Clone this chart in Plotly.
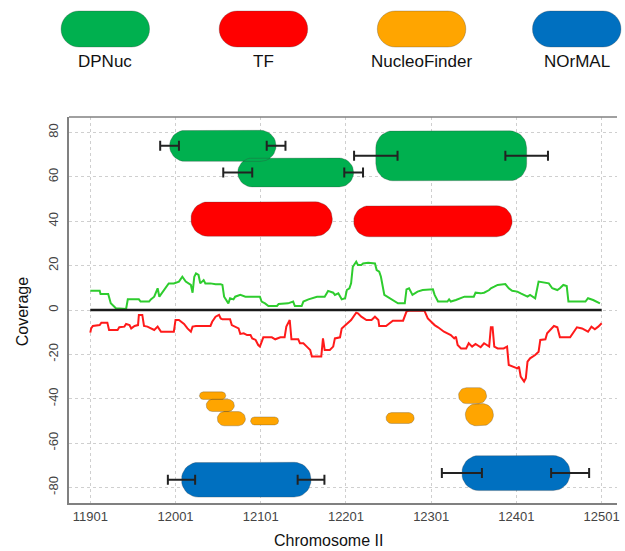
import plotly.graph_objects as go
import numpy as np

# ---------------- data ----------------
x_ticks = [11901, 12001, 12101, 12201, 12301, 12401, 12501]
y_ticks = [-80, -60, -40, -20, 0, 20, 40, 60, 80]

# DPNuc (green)
dp_start = [11994, 12074, 12236]
dp_end = [12119, 12210, 12413]
dp_y = [74, 62, 69.5]
dp_h = [14, 13, 22.5]
dp_start_err = [11, 17, 25.5]
dp_end_err = [11, 11, 25]

# TF (red)
tf_start = [12019, 12210]
tf_end = [12185, 12396]
tf_y = [41, 40]
tf_h = [15.5, 14]

# NucleoFinder (orange)
nf_start = [12029, 12037, 12050, 12089, 12248, 12333, 12341]
nf_end = [12060, 12070, 12083, 12122, 12281, 12366, 12374]
nf_y = [-38.6, -43, -49, -50, -48.7, -38.6, -47.2]
nf_h = [3.4, 5.5, 6.4, 3.6, 4.9, 7.2, 10]

# NOrMAL (blue)
nm_start = [12008, 12337]
nm_end = [12160, 12464]
nm_y = [-76.5, -73.5]
nm_h = [15.7, 15.8]
nm_start_err = [16, 23.5]
nm_end_err = [15.7, 22.3]

# coverage, positive strand (green)
cov_pos_x = [11901, 11912, 11913, 11922, 11925, 11931, 11943, 11945, 11958, 11960, 11970, 11972,
             11976, 11980, 11982, 11986, 11993, 11999, 12005, 12009, 12013, 12019, 12021, 12023,
             12025, 12028, 12030, 12034, 12036, 12042, 12048, 12054, 12056, 12058, 12063, 12065,
             12069, 12071, 12077, 12083, 12100, 12102, 12106, 12110, 12120, 12122, 12133, 12139,
             12141, 12149, 12151, 12157, 12167, 12176, 12180, 12186, 12188, 12192, 12196, 12200,
             12202, 12205, 12207, 12209, 12213, 12215, 12219, 12221, 12227, 12235, 12237, 12240,
             12242, 12246, 12252, 12258, 12262, 12270, 12272, 12275, 12279, 12285, 12291, 12303,
             12305, 12309, 12320, 12322, 12324, 12330, 12336, 12340, 12351, 12353, 12359, 12363,
             12369, 12371, 12375, 12379, 12388, 12392, 12396, 12402, 12406, 12410, 12414, 12417,
             12423, 12427, 12433, 12439, 12443, 12449, 12452, 12456, 12460, 12462, 12482, 12485,
             12491, 12495, 12499]
cov_pos_y = [8.7, 8.7, 7.2, 7.2, 3.0, 0.8, 0.45, 4.8, 4.8, 3.8, 3.8, 4.8,
             6.0, 9.8, 6.0, 8.3, 12.0, 12.0, 12.8, 15.0, 12.8, 11.3, 7.8, 15.0,
             16.5, 15.8, 12.0, 13.5, 12.0, 12.0, 11.6, 11.6, 11.3, 6.0, 3.0, 5.3,
             4.8, 6.0, 6.8, 6.0, 6.0, 3.8, 3.0, 1.8, 1.8, 2.7, 3.0, 3.8,
             1.8, 1.8, 3.8, 4.8, 6.0, 6.0, 8.6, 7.8, 6.8, 7.5, 4.8, 5.3,
             9.0, 9.8, 12.0, 19.5, 21.8, 20.3, 20.3, 21.0, 21.3, 21.0, 18.0, 17.3,
             15.0, 6.8, 5.3, 3.8, 3.0, 3.0, 9.3, 9.8, 6.8, 8.3, 9.0, 9.3,
             6.8, 3.8, 3.8, 4.8, 3.8, 4.5, 5.3, 6.0, 6.0, 7.8, 7.5, 7.8,
             9.0, 9.8, 10.5, 11.3, 11.7, 9.8, 8.7, 8.3, 7.5, 6.8, 6.0, 6.8,
             5.3, 12.8, 12.3, 12.0, 9.8, 9.0, 9.8, 11.3, 10.8, 3.8, 3.8, 5.3,
             4.5, 3.8, 3.0]

# coverage, negative strand (red)
cov_neg_x = [11901, 11902, 11904, 11912, 11914, 11921, 11923, 11933, 11935, 11941, 11943, 11947,
             11949, 11953, 11957, 11958, 11962, 11964, 11968, 11972, 11976, 11980, 11982, 11984,
             11999, 12001, 12005, 12011, 12015, 12019, 12021, 12025, 12042, 12044, 12048, 12052,
             12054, 12056, 12065, 12067, 12075, 12077, 12081, 12085, 12089, 12091, 12095, 12098,
             12100, 12104, 12114, 12118, 12124, 12129, 12131, 12135, 12137, 12145, 12147, 12151,
             12155, 12159, 12161, 12172, 12174, 12176, 12182, 12186, 12188, 12194, 12196, 12200,
             12207, 12213, 12215, 12219, 12225, 12231, 12235, 12239, 12240, 12248, 12252, 12256,
             12268, 12270, 12272, 12275, 12293, 12297, 12301, 12305, 12309, 12316, 12324, 12328,
             12330, 12332, 12336, 12342, 12345, 12349, 12353, 12359, 12363, 12369, 12371, 12373,
             12375, 12379, 12386, 12390, 12392, 12398, 12402, 12404, 12406, 12410, 12412, 12414,
             12417, 12423, 12427, 12429, 12435, 12437, 12441, 12445, 12449, 12452, 12464, 12468,
             12472, 12478, 12482, 12485, 12489, 12493, 12497, 12501]
cov_neg_y = [-10.2, -8.3, -7.2, -6.8, -5.7, -5.7, -9.0, -9.0, -7.8, -7.5, -6.3, -6.8,
             -8.3, -7.2, -6.8, -2.2, -2.2, -7.2, -7.5, -8.3, -9.0, -7.5, -8.7, -9.8,
             -9.8, -4.5, -4.5, -6.3, -8.3, -9.8, -7.5, -7.2, -7.2, -5.3, -3.0, -2.2,
             -3.8, -4.2, -4.2, -6.8, -8.3, -10.8, -10.5, -11.3, -11.3, -12.8, -13.5, -15.8,
             -16.5, -12.3, -12.3, -13.2, -12.3, -12.3, -7.5, -4.5, -13.2, -13.2, -15.0, -15.0,
             -16.5, -18.0, -21.0, -21.0, -12.8, -18.0, -18.0, -16.5, -12.8, -12.3, -8.3, -6.8,
             -4.5, -1.2, -1.5, -3.0, -4.5, -4.5, -3.0, -4.5, -7.2, -7.2, -6.0, -4.8,
             -4.8, -3.0, -0.7, -0.3, -0.3, -3.8, -5.3, -6.8, -7.8, -9.8, -11.3, -12.8,
             -12.0, -15.8, -17.3, -17.3, -15.0, -16.5, -15.3, -16.8, -15.0, -16.5, -7.8, -7.8,
             -16.5, -17.3, -17.3, -16.5, -24.8, -25.5, -26.3, -25.5, -30.0, -32.3, -30.8, -23.3,
             -21.8, -20.3, -18.8, -13.5, -13.2, -10.5, -9.0, -7.2, -7.8, -12.3, -12.3, -9.8,
             -7.8, -8.3, -9.0, -9.8, -7.5, -8.7, -7.5, -6.0]

zero_x = [11901, 12501]
zero_y = [0, 0]

legend_names = ["DPNuc", "TF", "NucleoFinder", "NOrMAL"]
colors = {"DPNuc": "#00B04F", "TF": "#FF0000", "NucleoFinder": "#FFA500", "NOrMAL": "#0070C0"}

# ---------------- layout geometry ----------------
W, H = 625, 551
ML, MR, MT, MB = 69, 5, 117, 48
XR = [11876, 12519]
YR = [-87, 87]
PW = W - ML - MR
PH = H - MT - MB
KX = PW / (XR[1] - XR[0])   # px per data unit (x)
KY = PH / (YR[1] - YR[0])   # px per data unit (y)
RCAP = 17  # max corner radius in px
FONT = "Liberation Sans, Arial, sans-serif"


def rounded_poly(x0, x1, yc, h, kx=KX, ky=KY, rcap=RCAP, n=10):
    r = min(h * ky / 2.0, rcap, (x1 - x0) * kx / 2.0)
    rx, ry = r / kx, r / ky
    y0, y1 = yc - h / 2.0, yc + h / 2.0
    xs, ys = [], []
    for cx, cy, a0 in [(x1 - rx, y1 - ry, 0), (x0 + rx, y1 - ry, 90),
                       (x0 + rx, y0 + ry, 180), (x1 - rx, y0 + ry, 270)]:
        for t in np.linspace(a0, a0 + 90, n):
            xs.append(cx + rx * np.cos(np.radians(t)))
            ys.append(cy + ry * np.sin(np.radians(t)))
    xs.append(xs[0]); ys.append(ys[0])
    return xs, ys


def pill_trace(starts, ends, ys_, hs, color):
    X, Y = [], []
    for s, e, yc, h in zip(starts, ends, ys_, hs):
        px, py = rounded_poly(s, e, yc, h)
        X += px + [None]
        Y += py + [None]
    return go.Scatter(x=X, y=Y, mode="lines", fill="toself", fillcolor=color,
                      line=dict(color="rgba(60,60,60,0.35)", width=0.8),
                      hoverinfo="skip", showlegend=False)


def err_trace(starts, ends, ys_, serr, eerr):
    return go.Scatter(x=list(starts) + list(ends), y=list(ys_) + list(ys_), mode="markers",
                      marker=dict(size=1, color="rgba(0,0,0,0)"),
                      error_x=dict(type="data", array=list(serr) + list(eerr), symmetric=True,
                                   color="#222222", thickness=2, width=5),
                      hoverinfo="skip", showlegend=False)


fig = go.Figure()

fig.add_trace(pill_trace(dp_start, dp_end, dp_y, dp_h, colors["DPNuc"]))
fig.add_trace(pill_trace(tf_start, tf_end, tf_y, tf_h, colors["TF"]))
fig.add_trace(pill_trace(nf_start, nf_end, nf_y, nf_h, colors["NucleoFinder"]))
fig.add_trace(pill_trace(nm_start, nm_end, nm_y, nm_h, colors["NOrMAL"]))

fig.add_trace(go.Scatter(x=cov_pos_x, y=cov_pos_y, mode="lines",
                         line=dict(color="#2ECC2E", width=2), showlegend=False))
fig.add_trace(go.Scatter(x=cov_neg_x, y=cov_neg_y, mode="lines",
                         line=dict(color="#FF1A1A", width=2), showlegend=False))
fig.add_trace(go.Scatter(x=zero_x, y=zero_y, mode="lines",
                         line=dict(color="#1a1a1a", width=2.5), showlegend=False))

fig.add_trace(err_trace(dp_start, dp_end, dp_y, dp_start_err, dp_end_err))
fig.add_trace(err_trace(nm_start, nm_end, nm_y, nm_start_err, nm_end_err))

# ---------------- custom legend (pills above the plot) ----------------
def px2paper_x(px):
    return (px - ML) / PW


def px2paper_y(py):
    return (H - MB - py) / PH


legend_left_px = [61, 220, 379, 535]
legend_w_px, legend_top_px, legend_h_px = 89, 11, 36
shapes = []
annotations = []
for name, lx in zip(legend_names, legend_left_px):
    px, py = rounded_poly(lx, lx + legend_w_px, legend_top_px + legend_h_px / 2, legend_h_px,
                          kx=1, ky=1, rcap=18)
    path = "M " + " L ".join(f"{px2paper_x(a):.5f},{px2paper_y(b):.5f}" for a, b in zip(px, py)) + " Z"
    shapes.append(dict(type="path", xref="paper", yref="paper", path=path,
                       fillcolor=colors[name], line=dict(color="rgba(60,60,60,0.35)", width=0.8)))
    annotations.append(dict(text=name, xref="paper", yref="paper",
                            x=px2paper_x(lx + legend_w_px / 2), y=px2paper_y(62),
                            showarrow=False, xanchor="center", yanchor="middle",
                            font=dict(size=17, color="#111111", family=FONT)))

# top frame line
shapes.append(dict(type="line", xref="paper", yref="paper", x0=0, x1=1, y0=1, y1=1,
                   line=dict(color="#808080", width=1.5)))

annotations.append(dict(text="Coverage", xref="paper", yref="paper",
                        x=px2paper_x(22), y=px2paper_y(312), textangle=-90,
                        showarrow=False, xanchor="center", yanchor="middle",
                        font=dict(size=16, color="#111111", family=FONT)))
annotations.append(dict(text="Chromosome II", xref="paper", yref="paper",
                        x=px2paper_x(330), y=px2paper_y(540),
                        showarrow=False, xanchor="center", yanchor="middle",
                        font=dict(size=16, color="#111111", family=FONT)))

fig.update_layout(
    width=W, height=H,
    margin=dict(l=ML, r=MR, t=MT, b=MB),
    paper_bgcolor="white", plot_bgcolor="white",
    font=dict(family=FONT, color="#333333"),
    shapes=shapes, annotations=annotations,
    xaxis=dict(range=XR, tickmode="array", tickvals=x_ticks, ticktext=[str(v) for v in x_ticks],
               showgrid=True, gridcolor="#cfcfcf", griddash="dot", gridwidth=1,
               showline=True, linecolor="#808080", linewidth=2, zeroline=False,
               tickfont=dict(size=13, color="#444444"), ticks=""),
    yaxis=dict(range=YR, tickmode="array", tickvals=y_ticks, ticktext=[str(v) for v in y_ticks],
               showgrid=True, gridcolor="#cfcfcf", griddash="dot", gridwidth=1,
               showline=True, linecolor="#808080", linewidth=2, zeroline=False,
               tickangle=-90, tickfont=dict(size=13, color="#444444"), ticks="",
               ticklabelstandoff=4),
)

fig.write_html("out.html", config={"displayModeBar": False},
               post_script="document.body.style.margin='0';document.body.style.overflow='hidden';")
